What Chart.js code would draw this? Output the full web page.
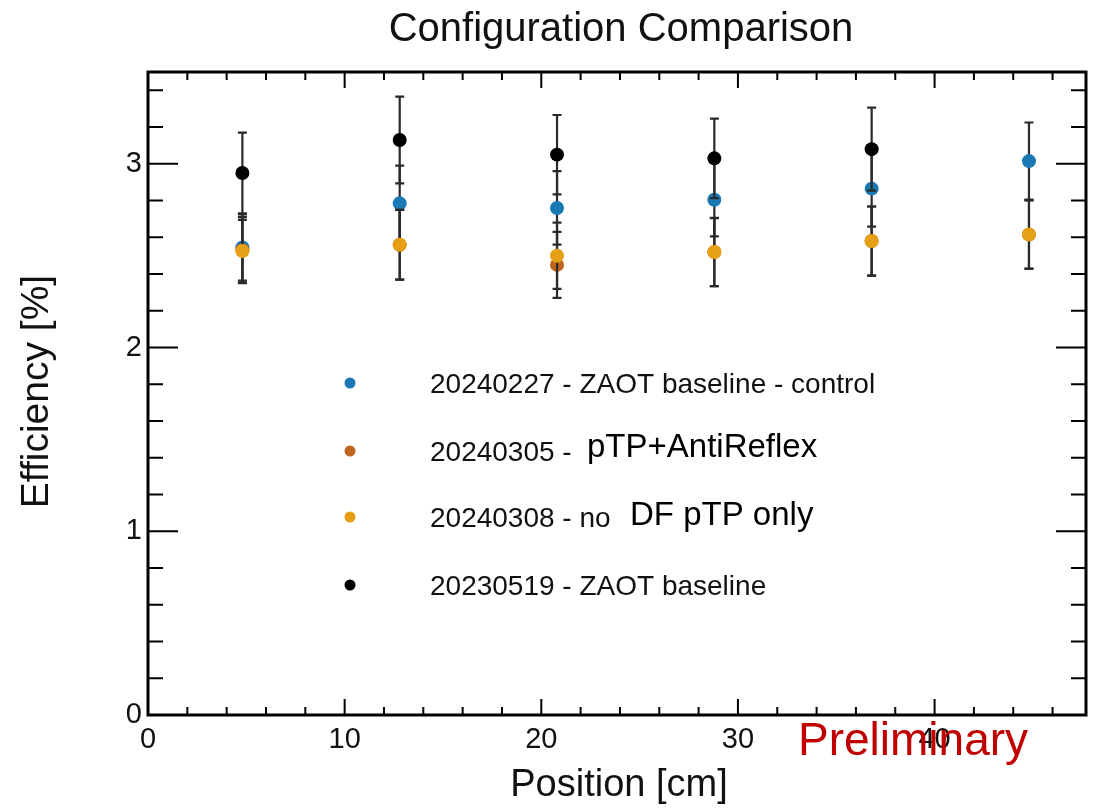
<!DOCTYPE html>
<html>
<head>
<meta charset="utf-8">
<title>Configuration Comparison</title>
<script src="https://cdn.jsdelivr.net/npm/chart.js@4.4.1/dist/chart.umd.min.js"></script>
<style>
    body { margin: 0; background: #fff; }
    #wrap { width: 1093px; height: 808px; }
</style>
</head>
<body>
<div id="wrap"><canvas id="chart" width="1093" height="808"></canvas></div>
<script>
// Measurement positions [cm]
const positions = [4.8, 12.8, 20.8, 28.8, 36.8, 44.8];

// Efficiency [%] and errors per configuration
const controlEff = [2.545, 2.785, 2.76, 2.805, 2.865, 3.015];
const controlErr = [0.18, 0.205, 0.2, 0.2, 0.207, 0.21];

const antiReflexEff = [2.53, 2.56, 2.45, 2.52, 2.58, 2.615];
const antiReflexErr = [0.18, 0.19, 0.18, 0.185, 0.188, 0.186];

const noDfEff = [2.525, 2.56, 2.50, 2.52, 2.58, 2.616];
const noDfErr = [0.17, 0.19, 0.18, 0.186, 0.188, 0.186];

const baselineEff = [2.95, 3.13, 3.05, 3.03, 3.08, null];
const baselineErr = [0.22, 0.236, 0.216, 0.216, 0.226, null];

// Axis ranges and tick steps
const xRange = [0, 47.7];
const yRange = [0, 3.5];
const xMajor = 10, xMinor = 2;
const yMajor = 1, yMinor = 0.2;

const legendLabels = [
    '20240227 - ZAOT baseline - control',
    '20240305 -',
    '20240308 - no',
    '20230519 - ZAOT baseline'
];

const FONT = "'Liberation Sans', Arial, Helvetica, sans-serif";

function toPoints(values) {
    return positions.map((x, i) => ({ x: x, y: values[i] })).filter(p => p.y !== null);
}

// black drawn last (on top), blue first
const series = [
    { label: legendLabels[3], eff: baselineEff, err: baselineErr, color: '#000000' },
    { label: legendLabels[2], eff: noDfEff, err: noDfErr, color: '#e6a015' },
    { label: legendLabels[1], eff: antiReflexEff, err: antiReflexErr, color: '#bf641e' },
    { label: legendLabels[0], eff: controlEff, err: controlErr, color: '#1a78b4' }
];

// ROOT-like decorations: error bars, frame, inner ticks, texts
const rootStyle = {
    id: 'rootStyle',
    beforeDatasetDraw(chart, args) {
        const s = series[args.index];
        const xs = chart.scales.x, ys = chart.scales.y;
        const ctx = chart.ctx;
        ctx.save();
        ctx.strokeStyle = '#2a2a2a';
        ctx.lineWidth = 2.2;
        s.eff.forEach((v, i) => {
            if (v === null) return;
            const px = xs.getPixelForValue(positions[i]);
            const top = ys.getPixelForValue(v + s.err[i]);
            const bot = ys.getPixelForValue(v - s.err[i]);
            ctx.beginPath();
            ctx.moveTo(px, top); ctx.lineTo(px, bot);
            ctx.moveTo(px - 4.5, top); ctx.lineTo(px + 4.5, top);
            ctx.moveTo(px - 4.5, bot); ctx.lineTo(px + 4.5, bot);
            ctx.stroke();
        });
        ctx.restore();
    },
    afterDraw(chart) {
        const ctx = chart.ctx;
        const a = chart.chartArea;
        const xs = chart.scales.x, ys = chart.scales.y;
        ctx.save();

        // inner ticks
        ctx.strokeStyle = '#000';
        ctx.lineWidth = 2;
        ctx.beginPath();
        for (let k = 1; k * xMinor <= xRange[1]; k++) {
            const v = k * xMinor;
            const len = (v % xMajor === 0) ? 16 : 8;
            const px = xs.getPixelForValue(v);
            ctx.moveTo(px, a.bottom); ctx.lineTo(px, a.bottom - len);
            ctx.moveTo(px, a.top); ctx.lineTo(px, a.top + len);
        }
        for (let k = 1; k * yMinor <= yRange[1] + 1e-9; k++) {
            const len = (k % Math.round(yMajor / yMinor) === 0) ? 30 : 15;
            const py = ys.getPixelForValue(k * yMinor);
            ctx.moveTo(a.left, py); ctx.lineTo(a.left + len, py);
            ctx.moveTo(a.right, py); ctx.lineTo(a.right - len, py);
        }
        ctx.stroke();

        // frame
        ctx.lineWidth = 3;
        ctx.strokeRect(a.left, a.top, a.right - a.left, a.bottom - a.top);

        // title and axis titles
        const cx = (a.left + a.right) / 2;
        const cy = (a.top + a.bottom) / 2;
        ctx.fillStyle = '#111';
        ctx.textAlign = 'center';
        ctx.textBaseline = 'alphabetic';
        ctx.font = '40px ' + FONT;
        ctx.fillText('Configuration Comparison', cx + 4, 41);
        ctx.font = '38px ' + FONT;
        ctx.fillText('Position [cm]', cx + 2, 796);
        ctx.save();
        ctx.translate(48, cy - 2);
        ctx.rotate(-Math.PI / 2);
        ctx.font = '39px ' + FONT;
        ctx.fillText('Efficiency [%]', 0, 0);
        ctx.restore();

        // legend (same order as in the reference, top to bottom)
        const rows = [393, 461, 527, 595];
        const legendOrder = [3, 2, 1, 0];
        ctx.textAlign = 'left';
        legendOrder.forEach((si, r) => {
            const s = series[si];
            ctx.fillStyle = s.color;
            ctx.beginPath();
            ctx.arc(350, rows[r] - 10, 5.5, 0, Math.PI * 2);
            ctx.fill();
            ctx.fillStyle = '#111';
            ctx.font = '28px ' + FONT;
            ctx.fillText(s.label, 430, rows[r]);
        });
        ctx.fillStyle = '#000';
        ctx.font = '33px ' + FONT;
        ctx.fillText('pTP+AntiReflex', 587, 457);
        ctx.fillText('DF pTP only', 630, 525);

        // overlay label
        ctx.fillStyle = '#c00000';
        ctx.font = '46px ' + FONT;
        ctx.fillText('Preliminary', 798, 755);
        ctx.restore();
    }
};

new Chart(document.getElementById('chart').getContext('2d'), {
    type: 'scatter',
    data: {
        datasets: series.map(s => ({
            label: s.label,
            data: toPoints(s.eff),
            backgroundColor: s.color,
            borderColor: s.color,
            borderWidth: 0,
            pointRadius: 7,
            pointHoverRadius: 7
        }))
    },
    options: {
        responsive: false,
        animation: false,
        layout: { padding: { left: 0, right: 5, top: 72, bottom: 0 } },
        plugins: {
            legend: { display: false },
            title: { display: false },
            tooltip: { enabled: false }
        },
        scales: {
            x: {
                type: 'linear',
                min: xRange[0],
                max: xRange[1],
                grid: { display: false, drawTicks: false },
                border: { display: false },
                ticks: {
                    stepSize: xMajor,
                    includeBounds: false,
                    maxRotation: 0,
                    padding: 8,
                    color: '#111',
                    font: { family: FONT, size: 29 }
                },
                afterFit: scale => { scale.height = 93; }
            },
            y: {
                type: 'linear',
                min: yRange[0],
                max: yRange[1],
                grid: { display: false, drawTicks: false },
                border: { display: false },
                ticks: {
                    stepSize: yMajor,
                    includeBounds: false,
                    padding: 6,
                    color: '#111',
                    font: { family: FONT, size: 29 }
                },
                afterFit: scale => { scale.width = 148; }
            }
        }
    },
    plugins: [rootStyle]
});
</script>
</body>
</html>
